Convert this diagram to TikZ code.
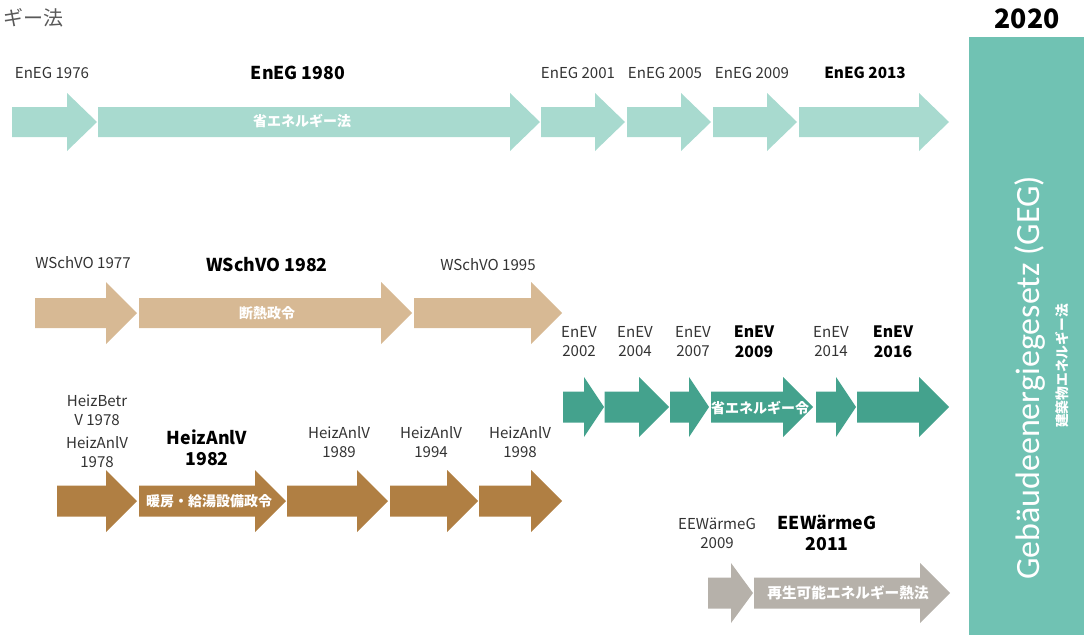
\documentclass[tikz,border=0pt]{standalone}
\usepackage{fontspec}
\setmainfont{Noto Sans CJK JP}
\newfontfamily\geg{Carlito}
\definecolor{cA}{HTML}{A8DACF}
\definecolor{cB}{HTML}{D7B994}
\definecolor{cC}{HTML}{44A28D}
\definecolor{cD}{HTML}{B07F43}
\definecolor{cE}{HTML}{B6B1AA}
\definecolor{cBig}{HTML}{70C2B3}
\definecolor{lab}{HTML}{333333}
\newcommand{\barrow}[7]{\fill[#1] (#2,{#4-#5}) -- ({#3-#7},{#4-#5}) -- ({#3-#7},{#4-#6}) -- (#3,#4) -- ({#3-#7},{#4+#6}) -- ({#3-#7},{#4+#5}) -- (#2,{#4+#5}) -- cycle;}
\tikzset{
  lbl/.style={text=lab, align=center, inner sep=0pt, font=\fontsize{11.3}{14.3}\selectfont},
  blbl/.style={text=black, align=center, inner sep=0pt, font=\fontsize{13.3}{15.5}\selectfont\bfseries},
  jp/.style={text=white, inner sep=0pt, font=\fontsize{10.5}{12}\selectfont\bfseries}
}
\begin{document}
\begin{tikzpicture}[x=0.75pt,y=-0.75pt]
\useasboundingbox (0,0) rectangle (1084,635);
% top-left
\node[anchor=east, text=black!65, inner sep=0pt, font=\fontsize{15}{16}\selectfont] (tl) at (64,18) {ギー法};
% big right box
\fill[cBig] (969,37) rectangle (1084,635);
\node[inner sep=0pt, font=\fontsize{20}{22}\selectfont\bfseries] (y2020) at (1027,19) {2020};
\node[rotate=90, text=white, inner sep=0pt, font=\fontsize{25.5}{26}\selectfont\geg] (geg) at (1030,378) {Gebäudeenergiegesetz (GEG)};
\node[rotate=90, text=white, inner sep=0pt, font=\fontsize{10.3}{11}\selectfont\bfseries] (gegjp) at (1062,366) {建築物エネルギー法};
% row 1 EnEG
\barrow{cA}{12}{97}{122}{15}{29}{30}
\barrow{cA}{98}{540}{122}{15}{29}{30}
\barrow{cA}{541}{625}{122}{15}{29}{30}
\barrow{cA}{627}{711}{122}{15}{29}{30}
\barrow{cA}{713}{797}{122}{15}{29}{30}
\barrow{cA}{799}{949}{122}{15}{29}{30}
\node[lbl] (e76) at (52,73) {EnEG 1976};
\node[blbl] (e80) at (298,73) {EnEG 1980};
\node[lbl] (e01) at (578,73) {EnEG 2001};
\node[lbl] (e05) at (665,73) {EnEG 2005};
\node[lbl] (e09) at (752,73) {EnEG 2009};
\node[blbl, font=\fontsize{11.5}{14}\selectfont\bfseries] (e13) at (865,73) {EnEG 2013};
\node[jp] (j1) at (302,121) {省エネルギー法};
% row 2 WSchVO
\barrow{cB}{35}{137}{313}{15}{31}{31}
\barrow{cB}{139}{412}{313}{15}{31}{31}
\barrow{cB}{414}{562}{313}{15}{31}{31}
\node[lbl] (w77) at (83,263) {WSchVO 1977};
\node[blbl] (w82) at (267,265) {WSchVO 1982};
\node[lbl] (w95) at (488,265) {WSchVO 1995};
\node[jp] (j2) at (267,313) {断熱政令};
% row 3 EnEV
\barrow{cC}{563}{604}{407}{15.5}{30}{20}
\barrow{cC}{604.5}{669}{407}{15.5}{30}{30}
\barrow{cC}{670}{709}{407}{15.5}{30}{20}
\barrow{cC}{711}{813}{407}{15.5}{30}{30}
\barrow{cC}{816}{856}{407}{15.5}{30}{20}
\barrow{cC}{857}{949}{407}{15.5}{30}{30}
\node[lbl] (v02) at (579,342) {EnEV\\2002};
\node[lbl] (v04) at (635,342) {EnEV\\2004};
\node[lbl] (v07) at (693,342) {EnEV\\2007};
\node[blbl, font=\fontsize{11.8}{15}\selectfont\bfseries] (v09) at (754,342) {EnEV\\2009};
\node[lbl] (v14) at (831,342) {EnEV\\2014};
\node[blbl, font=\fontsize{11.8}{15}\selectfont\bfseries] (v16) at (893,342) {EnEV\\2016};
\node[jp] (j3) at (760,408) {省エネルギー令};
% row 4 HeizAnlV
\barrow{cD}{57}{137}{501}{15.5}{31}{31}
\barrow{cD}{139}{286}{501}{15.5}{31}{31}
\barrow{cD}{287}{388}{501}{15.5}{31}{31}
\barrow{cD}{390}{478}{501}{15.5}{31}{31}
\barrow{cD}{479}{562}{501}{15.5}{31}{31}
\node[lbl] (hb78) at (97,410) {HeizBetr\\V 1978};
\node[lbl] (h78) at (97,452) {HeizAnlV\\1978};
\node[blbl] (h82) at (207,448) {HeizAnlV\\1982};
\node[lbl] (h89) at (339,442) {HeizAnlV\\1989};
\node[lbl] (h94) at (431,442) {HeizAnlV\\1994};
\node[lbl] (h98) at (520,442) {HeizAnlV\\1998};
\node[jp] (j4) at (209,501) {暖房・給湯設備政令};
% row 5 EEWaermeG
\barrow{cE}{708}{753}{593}{15.5}{30}{22}
\barrow{cE}{754}{950}{593}{15.5}{30}{30}
\node[lbl] (ee09) at (717,533) {EEWärmeG\\2009};
\node[blbl] (ee11) at (827,533) {EEWärmeG\\2011};
\node[jp, font=\fontsize{11}{12}\selectfont\bfseries] (j5) at (848,593) {再生可能エネルギー熱法};
\end{tikzpicture}
\end{document}
